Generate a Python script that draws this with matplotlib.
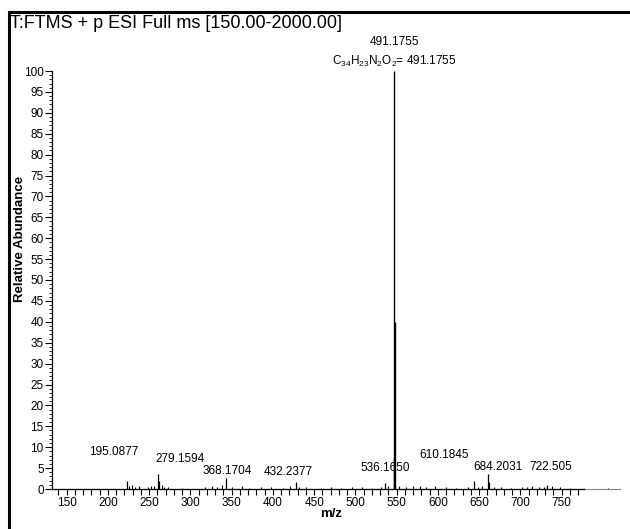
import matplotlib
matplotlib.use("Agg")
import matplotlib.pyplot as plt
from matplotlib.patches import Rectangle
from matplotlib.ticker import FixedLocator, MultipleLocator
import numpy as np

plt.rcParams['font.family'] = ['Liberation Sans', 'DejaVu Sans']
plt.rcParams['mathtext.fontset'] = 'custom'
plt.rcParams['mathtext.rm'] = 'Liberation Sans'
plt.rcParams['mathtext.it'] = 'Liberation Sans:italic'
plt.rcParams['mathtext.bf'] = 'Liberation Sans:bold'

# ---- data ----
title_text = "T:FTMS + p ESI Full ms [150.00-2000.00]"
main_mz = [547.0, 547.6, 546.5]
main_int = [100.0, 40.0, 7.5]
peak_mz = [223, 260.5, 261.6, 343, 428, 536, 644, 660.5, 661.6, 732]
peak_int = [2.0, 3.5, 1.8, 2.6, 1.6, 1.4, 2.0, 3.5, 1.6, 1.0]
noise_mz = [226, 229, 233, 238, 248, 252, 256, 265, 268, 273, 290, 318, 326,
            332, 338, 350, 362, 371, 386, 398, 412, 421, 431, 440, 458, 470,
            483, 496, 508, 520, 531, 540, 553, 561, 570, 578, 586, 596, 610,
            622, 636, 648, 653, 668, 676, 688, 702, 708, 714, 722, 728, 738,
            748, 760, 806]
noise_int = [0.6, 0.9, 0.5, 0.7, 0.4, 0.8, 0.6, 1.0, 0.5, 0.4, 0.3, 0.4, 0.8,
             0.5, 0.9, 0.4, 0.6, 0.3, 0.5, 0.4, 0.3, 0.7, 0.5, 0.4, 0.3, 0.4,
             0.3, 0.5, 0.4, 0.3, 0.5, 0.6, 0.7, 0.5, 0.6, 0.8, 0.5, 0.6, 0.4,
             0.3, 0.5, 0.4, 0.6, 0.4, 0.5, 0.3, 0.5, 0.4, 0.6, 0.4, 0.5, 0.7,
             0.4, 0.3, 0.3]
scan_range = [132.2, 820.7]
axis_end = 777

label_texts = ["195.0877", "279.1594", "368.1704", "432.2377",
               "536.1650", "610.1845", "684.2031", "722.505"]
label_x = [207.3, 287.3, 344.3, 418.2, 536.0, 607.6, 672.8, 737.3]
label_y = [8.9, 7.2, 4.3, 4.1, 5.0, 8.1, 5.3, 5.3]

main_label = "491.1755"
formula_label = r"C$_{34}$H$_{23}$N$_{2}$O$_{2}$= 491.1755"

x_major = list(range(150, 751, 50))
x_minor = list(range(140, 771, 10))

# ---- figure ----
fig = plt.figure(figsize=(6.30, 5.29), dpi=100)
ax = fig.add_axes([52/630, 1-489/529, (620-52)/630, (489-71)/529])

ax.set_xlim(scan_range)
ax.set_ylim(0, 100)

# baseline trace
ax.plot(scan_range, [0, 0], color='#888888', lw=0.8, zorder=1, clip_on=False)

ax.vlines(noise_mz, 0, noise_int, color='black', lw=0.8, zorder=2)
ax.vlines(peak_mz, 0, peak_int, color='black', lw=0.9, zorder=2)
ax.vlines(main_mz, 0, main_int, color='black', lw=1.0, zorder=3)

for t, x, y in zip(label_texts, label_x, label_y):
    ax.text(x, y, t, ha='center', va='center', fontsize=8.5)

ax.text(main_mz[0], 106.9, main_label, ha='center', va='center',
        fontsize=8.5, clip_on=False)
ax.text(main_mz[0], 102.2, formula_label, ha='center', va='center',
        fontsize=8.5, clip_on=False)

# spines
for s in ['top', 'right']:
    ax.spines[s].set_visible(False)
ax.spines['bottom'].set_bounds(scan_range[0], axis_end)
ax.spines['left'].set_linewidth(0.9)
ax.spines['bottom'].set_linewidth(0.9)

ax.xaxis.set_major_locator(FixedLocator(x_major))
ax.xaxis.set_minor_locator(FixedLocator(x_minor))
ax.yaxis.set_major_locator(MultipleLocator(5))
ax.yaxis.set_minor_locator(MultipleLocator(1))

ax.tick_params(axis='x', which='both', direction='out', length=4, width=0.8,
               labelsize=8.5, pad=2)
ax.tick_params(axis='y', which='major', direction='out', length=5, width=0.8,
               labelsize=8.5, pad=1)
ax.tick_params(axis='y', which='minor', direction='out', length=2.5, width=0.6)

ax.set_xlabel("m/z", fontsize=9.5, fontweight='bold')
ax.xaxis.set_label_coords(0.491, -0.045)
ax.set_ylabel("Relative Abundance", fontsize=9.5, fontweight='bold')
ax.yaxis.set_label_coords(-0.046, 0.598)

fig.text(10/630, 1-24/529, title_text, fontsize=13, ha='left', va='center')

# outer frame (top and left edges visible)
fig.patches.append(Rectangle((9/630, -0.1), 1.2, 1.1 - 12/529 + 0.0,
                             transform=fig.transFigure, fill=False,
                             edgecolor='black', lw=2.2))

fig.savefig("out.png", dpi=100)
